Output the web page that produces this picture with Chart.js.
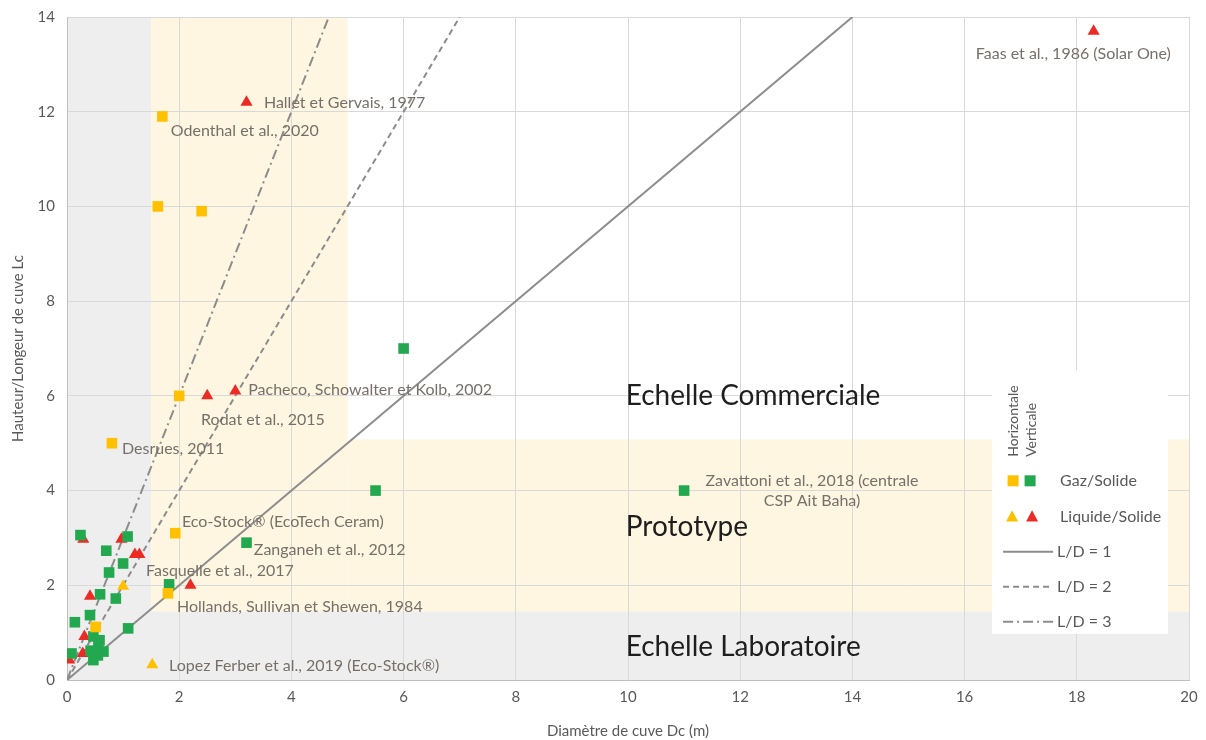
<!DOCTYPE html>
<html>
<head>
<meta charset="utf-8">
<script src="https://cdn.jsdelivr.net/npm/chart.js@4.4.0/dist/chart.umd.min.js"></script>
<style>
  body { margin: 0; background: #fff; }
  canvas { display: block; }
</style>
</head>
<body>
<canvas id="myChart" width="1206" height="740"></canvas>
<script>
// Horizontal storage, gas/solid (yellow squares)
var gazHorizontal = [[1.7, 11.9], [1.62, 10.0], [2.4, 9.9], [2.0, 6.0], [0.8, 5.0], [1.93, 3.1], [1.8, 1.83], [0.51, 1.12]];
// Vertical storage, gas/solid (green squares)
var gazVertical = [[6.0, 7.0], [5.5, 4.0], [11.0, 4.0], [3.2, 2.9], [1.82, 2.02], [0.24, 3.06], [1.08, 3.03],
  [0.7, 2.73], [1.0, 2.46], [0.75, 2.27], [0.59, 1.81], [0.87, 1.72], [0.41, 1.37], [0.14, 1.22], [1.09, 1.09],
  [0.47, 0.92], [0.58, 0.84], [0.56, 0.74], [0.65, 0.6], [0.42, 0.62], [0.55, 0.52], [0.47, 0.42], [0.08, 0.56]];
// Horizontal storage, liquid/solid (yellow triangles)
var liqHorizontal = [[1.0, 1.98], [1.52, 0.32]];
// Vertical storage, liquid/solid (red triangles)
var liqVertical = [[18.3, 13.7], [3.2, 12.2], [3.0, 6.1], [2.5, 6.0], [2.2, 2.0], [0.29, 2.97], [0.97, 2.97],
  [1.21, 2.65], [1.29, 2.65], [0.41, 1.77], [0.31, 0.92], [0.28, 0.56], [0.04, 0.42]];

// L/D ratios drawn as straight lines from the origin
var ratios = [1, 2, 3];
var ratioLabels = ['L/D = 1', 'L/D = 2', 'L/D = 3'];

var xTicks = [0, 2, 4, 6, 8, 10, 12, 14, 16, 18, 20];
var yTicks = [0, 2, 4, 6, 8, 10, 12, 14];

// references written next to the points
var refTexts = ['Faas et al., 1986 (Solar One)', 'Hallet et Gervais, 1977', 'Odenthal et al., 2020',
  'Pacheco, Schowalter et Kolb, 2002', 'Rodat et al., 2015', 'Desrues, 2011', 'Eco-Stock® (EcoTech Ceram)',
  'Zanganeh et al., 2012', 'Fasquelle et al., 2017', 'Hollands, Sullivan et Shewen, 1984',
  'Lopez Ferber et al., 2019 (Eco-Stock®)'];
var refX = [16.2, 3.51, 1.85, 3.23, 2.39, 0.98, 2.05, 3.33, 1.41, 1.96, 1.82];
var refY = [13.22, 12.18, 11.59, 6.12, 5.49, 4.88, 3.34, 2.74, 2.30, 1.54, 0.30];
var zavText = ['Zavattoni et al., 2018 (centrale', 'CSP Ait Baha)'];
var zavX = 13.28;
var zavY = [4.2, 3.78];

// scale zones
var zoneNames = ['Echelle Commerciale', 'Prototype', 'Echelle Laboratoire'];
var zoneNameY = [6.0, 3.23, 0.7];
var zoneNameX = 9.96;

var fontFam = 'Lato, "Open Sans", sans-serif';
var grey = '#595959';
var noteColor = '#77706a';
var cYellow = '#ffc000';
var cGreen = '#22a84f';
var cRed = '#ee2a24';
var lineGrey = '#8c8c8c';
var dashes = [[], [6, 4], [10, 4, 2, 4]];

function toPts(arr) {
  return arr.map(function (p) { return { x: p[0], y: p[1] }; });
}

var bgPlugin = {
  id: 'zones',
  beforeDraw: function (chart) {
    var ctx = chart.ctx;
    var xs = chart.scales.x, ys = chart.scales.y;
    function rect(x0, x1, y0, y1, col) {
      var l = xs.getPixelForValue(x0), r = xs.getPixelForValue(x1);
      var t = ys.getPixelForValue(y1), b = ys.getPixelForValue(y0);
      ctx.fillStyle = col;
      ctx.fillRect(l, t, r - l, b - t);
    }
    ctx.save();
    rect(0, 1.5, 0, 14, '#eeeeee');
    rect(0, 20, 0, 1.45, '#eeeeee');
    rect(1.5, 5, 1.45, 14, '#fff6e2');
    rect(5, 20, 1.45, 5.08, '#fff6e2');
    ctx.restore();
  }
};

var notePlugin = {
  id: 'notes',
  afterDatasetsDraw: function (chart) {
    var ctx = chart.ctx;
    var xs = chart.scales.x, ys = chart.scales.y;
    ctx.save();
    ctx.textBaseline = 'middle';
    ctx.fillStyle = noteColor;
    ctx.font = '16px ' + fontFam;
    ctx.textAlign = 'left';
    for (var i = 0; i < refTexts.length; i++) {
      ctx.fillText(refTexts[i], xs.getPixelForValue(refX[i]), ys.getPixelForValue(refY[i]));
    }
    ctx.textAlign = 'center';
    for (var j = 0; j < zavText.length; j++) {
      ctx.fillText(zavText[j], xs.getPixelForValue(zavX), ys.getPixelForValue(zavY[j]));
    }
    ctx.textAlign = 'left';
    ctx.fillStyle = '#1e1e1e';
    ctx.font = '28px ' + fontFam;
    for (var k = 0; k < zoneNames.length; k++) {
      ctx.fillText(zoneNames[k], xs.getPixelForValue(zoneNameX), ys.getPixelForValue(zoneNameY[k]));
    }
    ctx.restore();
  }
};

function square(ctx, x, y, s, col) {
  ctx.fillStyle = col;
  ctx.fillRect(x - s / 2, y - s / 2, s, s);
}
function triangle(ctx, x, y, s, col) {
  ctx.fillStyle = col;
  ctx.beginPath();
  ctx.moveTo(x, y - s * 0.55);
  ctx.lineTo(x + s / 2, y + s * 0.4);
  ctx.lineTo(x - s / 2, y + s * 0.4);
  ctx.closePath();
  ctx.fill();
}

var legendPlugin = {
  id: 'customLegend',
  afterDraw: function (chart) {
    var ctx = chart.ctx;
    var L = chart.scales.x.getPixelForValue(16.49);
    var T = chart.scales.y.getPixelForValue(6.55);
    ctx.save();
    ctx.fillStyle = '#ffffff';
    ctx.fillRect(L, T, 176, 264);
    ctx.fillStyle = grey;
    ctx.font = '14px ' + fontFam;
    ctx.textBaseline = 'middle';
    ctx.textAlign = 'left';
    ctx.save();
    ctx.translate(L + 21, T + 87);
    ctx.rotate(-Math.PI / 2);
    ctx.fillText('Horizontale', 0, 0);
    ctx.restore();
    ctx.save();
    ctx.translate(L + 39, T + 87);
    ctx.rotate(-Math.PI / 2);
    ctx.fillText('Verticale', 0, 0);
    ctx.restore();
    square(ctx, L + 21, T + 111, 11, cYellow);
    square(ctx, L + 38, T + 111, 11, cGreen);
    triangle(ctx, L + 20, T + 147, 12, cYellow);
    triangle(ctx, L + 40, T + 147, 12, cRed);
    ctx.fillStyle = grey;
    ctx.font = '16px ' + fontFam;
    ctx.fillText('Gaz/Solide', L + 68, T + 111);
    ctx.fillText('Liquide/Solide', L + 68, T + 147);
    for (var i = 0; i < ratios.length; i++) {
      var yy = T + 182 + i * 35;
      ctx.strokeStyle = lineGrey;
      ctx.lineWidth = 2;
      ctx.setLineDash(dashes[i]);
      ctx.beginPath();
      ctx.moveTo(L + 11, yy);
      ctx.lineTo(L + 61, yy);
      ctx.stroke();
      ctx.setLineDash([]);
      ctx.fillStyle = grey;
      ctx.fillText(ratioLabels[i], L + 65, yy);
    }
    ctx.restore();
  }
};

var datasets = [];
ratios.forEach(function (r, i) {
  datasets.push({
    label: ratioLabels[i],
    data: [{ x: 0, y: 0 }, { x: 14 / r, y: 14 }],
    showLine: true,
    borderColor: lineGrey,
    borderWidth: 2,
    borderDash: dashes[i],
    pointRadius: 0,
    order: 10
  });
});
datasets.push({
  label: 'Verticale Liquide/Solide',
  data: toPts(liqVertical),
  pointStyle: 'triangle',
  pointRadius: 7,
  backgroundColor: cRed,
  borderWidth: 0,
  order: 5
});
datasets.push({
  label: 'Verticale Gaz/Solide',
  data: toPts(gazVertical),
  pointStyle: 'rect',
  pointRadius: 7.5,
  backgroundColor: cGreen,
  borderWidth: 0,
  order: 4
});
datasets.push({
  label: 'Horizontale Gaz/Solide',
  data: toPts(gazHorizontal),
  pointStyle: 'rect',
  pointRadius: 7.5,
  backgroundColor: cYellow,
  borderWidth: 0,
  order: 3
});
datasets.push({
  label: 'Horizontale Liquide/Solide',
  data: toPts(liqHorizontal),
  pointStyle: 'triangle',
  pointRadius: 7,
  backgroundColor: cYellow,
  borderWidth: 0,
  order: 2
});

var ctx = document.getElementById('myChart').getContext('2d');
var myChart = new Chart(ctx, {
  type: 'scatter',
  data: { datasets: datasets },
  plugins: [bgPlugin, notePlugin, legendPlugin],
  options: {
    responsive: false,
    animation: false,
    layout: { padding: { top: 17, right: 17, left: 9, bottom: 0 } },
    plugins: {
      legend: { display: false },
      tooltip: { enabled: false }
    },
    scales: {
      x: {
        type: 'linear',
        min: 0,
        max: 20,
        afterFit: function (s) { s.height = 60; },
        afterBuildTicks: function (s) { s.ticks = xTicks.map(function (v) { return { value: v }; }); },
        grid: { color: '#d9d9d9', drawTicks: false },
        border: { color: '#bfbfbf' },
        ticks: { color: grey, font: { size: 15, family: fontFam }, padding: 8 },
        title: { display: true, text: 'Diamètre de cuve Dc (m)', color: grey, font: { size: 15, family: fontFam }, padding: { top: 10, bottom: 0 } }
      },
      y: {
        type: 'linear',
        min: 0,
        max: 14,
        afterFit: function (s) { s.width = 58; },
        afterBuildTicks: function (s) { s.ticks = yTicks.map(function (v) { return { value: v }; }); },
        grid: { color: '#d9d9d9', drawTicks: true, tickLength: 9, tickColor: 'rgba(0,0,0,0)' },
        border: { color: '#bfbfbf' },
        ticks: { color: grey, font: { size: 15, family: fontFam }, padding: 3 },
        title: { display: true, text: 'Hauteur/Longeur de cuve Lc', color: grey, font: { size: 15, family: fontFam }, padding: 0 }
      }
    }
  }
});
</script>
</body>
</html>
